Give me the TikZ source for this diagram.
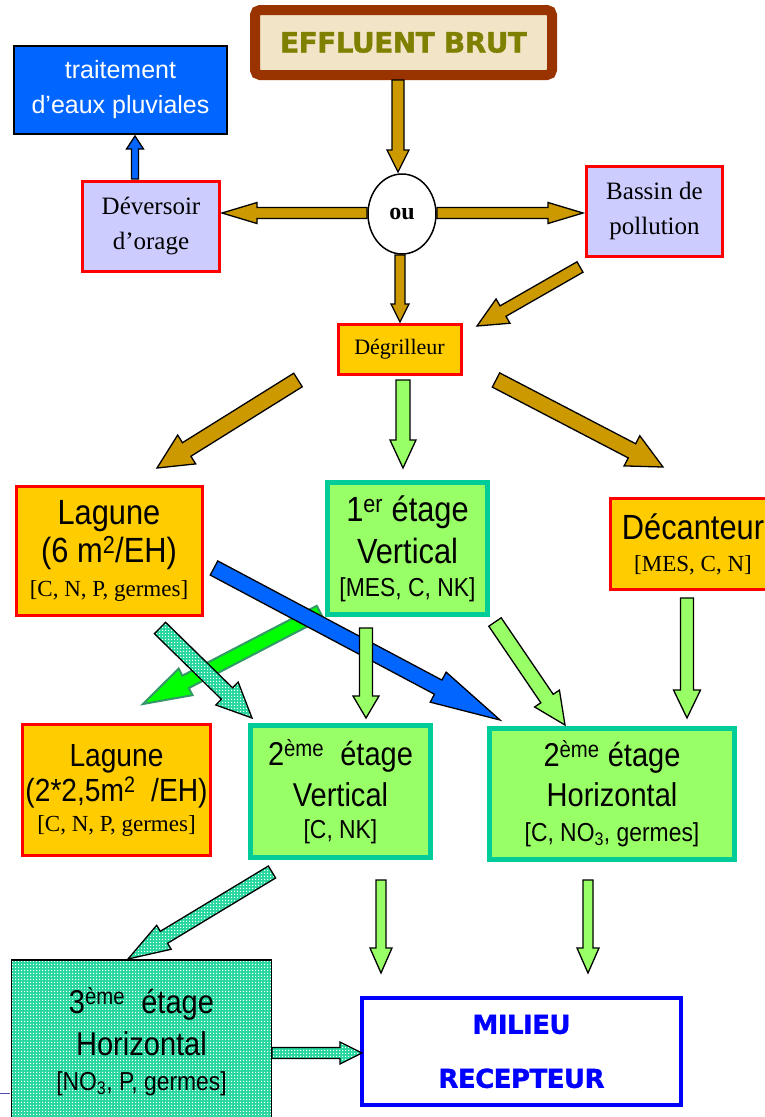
\documentclass[tikz,border=0pt]{standalone}
\usepackage{fontspec}
\setmainfont{Liberation Serif}
\newfontfamily\sansf[FakeStretch=0.88]{Liberation Sans}
\newfontfamily\arialf{Liberation Sans}
\newfontfamily\verdf[FakeBold=1.2,LetterSpace=-2]{DejaVu Sans}
\usetikzlibrary{calc,patterns,shapes.geometric}

% Define colors
\definecolor{arrgold}{RGB}{204,153,0}
\definecolor{boxred}{RGB}{255,0,0}
\definecolor{boxlav}{RGB}{204,204,255}
\definecolor{boxorange}{RGB}{255,204,0}
\definecolor{boxgreen}{RGB}{153,255,102}
\definecolor{boxteal}{RGB}{0,204,153}
\definecolor{pluvblue}{RGB}{0,102,255}
\definecolor{effbrown}{RGB}{153,51,0}
\definecolor{effolive}{RGB}{128,128,0}
\definecolor{effbeige}{RGB}{242,228,198}
\definecolor{limefill}{RGB}{0,255,0}
\definecolor{limedraw}{RGB}{51,153,102}
\definecolor{chkteal}{RGB}{40,215,160}
\definecolor{milblue}{RGB}{0,0,255}

% fine dotted fill
\pgfdeclarepatternformonly{finechk}{\pgfpointorigin}{\pgfqpoint{3pt}{3pt}}{\pgfqpoint{3pt}{3pt}}{%
  \pgfpathrectangle{\pgfpointorigin}{\pgfqpoint{1.5pt}{1.5pt}}%
  \pgfusepath{fill}}

% block arrow: style, shaft half width, head half width, head length, from, to
\newcommand{\fatarrow}[6]{%
  \coordinate (fah) at ($(#6)!#4!(#5)$);
  \path[#1] ($(#5)!#2!90:(#6)$) -- ($(fah)!#2!90:(#6)$) -- ($(fah)!#3!90:(#6)$) -- (#6)
    -- ($(fah)!#3!-90:(#6)$) -- ($(fah)!#2!-90:(#6)$) -- ($(#5)!#2!-90:(#6)$) -- cycle;
}

\begin{document}
\begin{tikzpicture}[x=1pt, y=-1pt,
    base/.style={rectangle, inner sep=0pt, align=center},
    redbox/.style={base, draw=boxred, line width=3pt},
    greenbox/.style={base, fill=boxgreen, draw=boxteal, line width=5pt,
      font=\sansf\fontsize{35}{42}\selectfont},
    chkfill/.style={preaction={fill=chkteal}, pattern=finechk, pattern color=white},
    goldarr/.style={draw=black, fill=arrgold, line width=1.3pt},
    greenarr/.style={draw=black, fill=boxgreen, line width=1.3pt},
    bluearr/.style={draw=black, fill=pluvblue, line width=1.3pt},
    chkarr/.style={chkfill, draw=black, line width=1.3pt},
    limearr/.style={draw=limedraw, fill=limefill, line width=2pt}]

    \useasboundingbox (0,0) rectangle (765,1117);
    \clip (0,0) rectangle (765,1117);

    % top part
    \node[base, fill=effbeige, draw=effbrown, line width=10pt, rounded corners=5pt,
      minimum width=297pt, minimum height=65pt, text=effolive,
      font=\verdf\bfseries\fontsize{28}{32}\selectfont] (effl) at (403.5,42.5) {EFFLUENT BRUT};
    \node[base, fill=pluvblue, draw=black, line width=1.5pt, minimum width=213pt,
      minimum height=88pt, text=white, font=\arialf\fontsize{25}{35}\selectfont]
      (pluv) at (120.5,90) {traitement\\d’eaux pluviales};
    \node[redbox, fill=boxlav, minimum width=137pt, minimum height=90pt,
      font=\fontsize{25}{35}\selectfont] (dever) at (151,226.5) {Déversoir\\d’orage};
    \node[ellipse, draw=black, fill=white, line width=1.5pt, minimum width=68pt,
      minimum height=80pt, inner sep=0pt, font=\bfseries\fontsize{24}{28}\selectfont]
      (ou) at (402,214) {ou};
    \node[redbox, fill=boxlav, minimum width=136pt, minimum height=90pt,
      font=\fontsize{25}{35}\selectfont] (bassin) at (654.5,211) {Bassin de\\pollution};
    \node[redbox, fill=boxorange, minimum width=123pt, minimum height=50pt,
      font=\fontsize{22}{26}\selectfont] (degr) at (399.5,349.5) {Dégrilleur};

    % first row of treatment
    \node[redbox, fill=boxorange, minimum width=186pt, minimum height=129pt,
      font=\sansf\fontsize{35}{38}\selectfont] (lag1) at (109,551)
      {Lagune\\(6 m\textsuperscript{2}/EH)\\[-4pt]{\rmfamily\fontsize{23}{27}\selectfont [C, N, P, germes]}};
    \node[greenbox, minimum width=160pt, minimum height=132pt] (etage1) at (407.5,548.5)
      {1\textsuperscript{er} étage\\Vertical\\[-9pt]{\fontsize{26}{30}\selectfont [MES, C, NK]}};
    \node[redbox, fill=boxorange, minimum width=165pt, minimum height=91pt,
      font=\sansf\fontsize{35}{32}\selectfont] (decant) at (693,544)
      {Décanteur\\{\rmfamily\fontsize{23}{27}\selectfont [MES, C, N]}};

    % second row
    \node[redbox, fill=boxorange, minimum width=188pt, minimum height=131pt,
      font=\sansf\fontsize{32}{35}\selectfont] (lag2) at (116.5,790)
      {Lagune\\(2*2,5m\textsuperscript{2}\ \ /EH)\\[-5pt]{\rmfamily\fontsize{23}{27}\selectfont [C, N, P, germes]}};
    \node[greenbox, minimum width=180pt, minimum height=132pt,
      font=\sansf\fontsize{33}{41}\selectfont] (etage2v) at (340.5,791.5)
      {2\textsuperscript{ème}\ \ étage\\Vertical\\[-9pt]{\fontsize{26}{30}\selectfont [C, NK]}};
    \node[greenbox, minimum width=245pt, minimum height=131pt,
      font=\sansf\fontsize{33}{40}\selectfont] (etage2h) at (612,794)
      {2\textsuperscript{ème} étage\\Horizontal\\[-5pt]{\fontsize{26}{30}\selectfont [C, NO\textsubscript{3}, germes]}};

    % bottom
    \node[base, chkfill, draw=black, line width=1.5pt, minimum width=260pt,
      minimum height=164pt, font=\sansf\fontsize{33}{42}\selectfont] (etage3) at (141.5,1042)
      {3\textsuperscript{ème}\ \ étage\\Horizontal\\[-7pt]{\fontsize{26}{30}\selectfont [NO\textsubscript{3}, P, germes]}};
    \node[base, fill=white, draw=milblue, line width=4pt, minimum width=319pt,
      minimum height=107pt, text=milblue, font=\verdf\bfseries\fontsize{26}{54}\selectfont]
      (milieu) at (521.5,1051.5) {MILIEU\\RECEPTEUR};
    \draw[color=gray!60!blue, line width=1pt] (0,1093) -- (10,1093);

    % arrow ends
    \coordinate (e0) at (398,80);     \coordinate (e1) at (398,172);
    \coordinate (ol0) at (367,213);   \coordinate (ol1) at (222,213);
    \coordinate (or0) at (437,213);   \coordinate (or1) at (583,213);
    \coordinate (od0) at (400,255);   \coordinate (od1) at (400,322);
    \coordinate (b0) at (580,267);    \coordinate (b1) at (477,326);
    \coordinate (dv0) at (135,179);   \coordinate (dv1) at (135,136);
    \coordinate (gl0) at (298,380);   \coordinate (gl1) at (157,468);
    \coordinate (gm0) at (403,380);   \coordinate (gm1) at (403,468);
    \coordinate (gr0) at (496,380);   \coordinate (gr1) at (663,467);
    \coordinate (va0) at (366,628);   \coordinate (va1) at (366,718);
    \coordinate (vr0) at (495,622);   \coordinate (vr1) at (565,725);
    \coordinate (dc0) at (687,598);   \coordinate (dc1) at (687,718);
    \coordinate (bl0) at (214,568);   \coordinate (bl1) at (500,720);
    \coordinate (lm0) at (320,612);   \coordinate (lm1) at (143,704);
    \coordinate (ca0) at (160,628);   \coordinate (ca1) at (252,718);
    \coordinate (cb0) at (272,872);   \coordinate (cb1) at (128,959);
    \coordinate (vb0) at (381,880);   \coordinate (vb1) at (381,973);
    \coordinate (hb0) at (588,880);   \coordinate (hb1) at (588,973);
    \coordinate (cc0) at (272,1053);  \coordinate (cc1) at (362,1053);

    % arrows
    \fatarrow{goldarr}{6pt}{11pt}{22pt}{e0}{e1}
    \fatarrow{goldarr}{5.5pt}{10.5pt}{35pt}{ol0}{ol1}
    \fatarrow{goldarr}{5.5pt}{10.5pt}{35pt}{or0}{or1}
    \fatarrow{goldarr}{5pt}{9pt}{18pt}{od0}{od1}
    \fatarrow{goldarr}{6pt}{14pt}{30pt}{b0}{b1}
    \fatarrow{bluearr}{3.5pt}{8.5pt}{13pt}{dv0}{dv1}
    \fatarrow{goldarr}{8pt}{17pt}{35pt}{gl0}{gl1}
    \fatarrow{greenarr}{7pt}{13pt}{28pt}{gm0}{gm1}
    \fatarrow{goldarr}{8pt}{17pt}{35pt}{gr0}{gr1}

    \fatarrow{limearr}{7pt}{15pt}{48pt}{lm0}{lm1}
    \fatarrow{bluearr}{8pt}{17pt}{70pt}{bl0}{bl1}
    \fatarrow{chkarr}{8pt}{16pt}{35pt}{ca0}{ca1}
    \fatarrow{greenarr}{6.5pt}{13pt}{22pt}{va0}{va1}
    \fatarrow{greenarr}{7.5pt}{15pt}{32pt}{vr0}{vr1}
    \fatarrow{greenarr}{6.5pt}{13.5pt}{28pt}{dc0}{dc1}

    \fatarrow{chkarr}{7pt}{14pt}{42pt}{cb0}{cb1}
    \fatarrow{greenarr}{5pt}{11pt}{25pt}{vb0}{vb1}
    \fatarrow{greenarr}{5pt}{11pt}{25pt}{hb0}{hb1}
    \fatarrow{chkarr}{5.5pt}{11pt}{22pt}{cc0}{cc1}

\end{tikzpicture}
\end{document}
